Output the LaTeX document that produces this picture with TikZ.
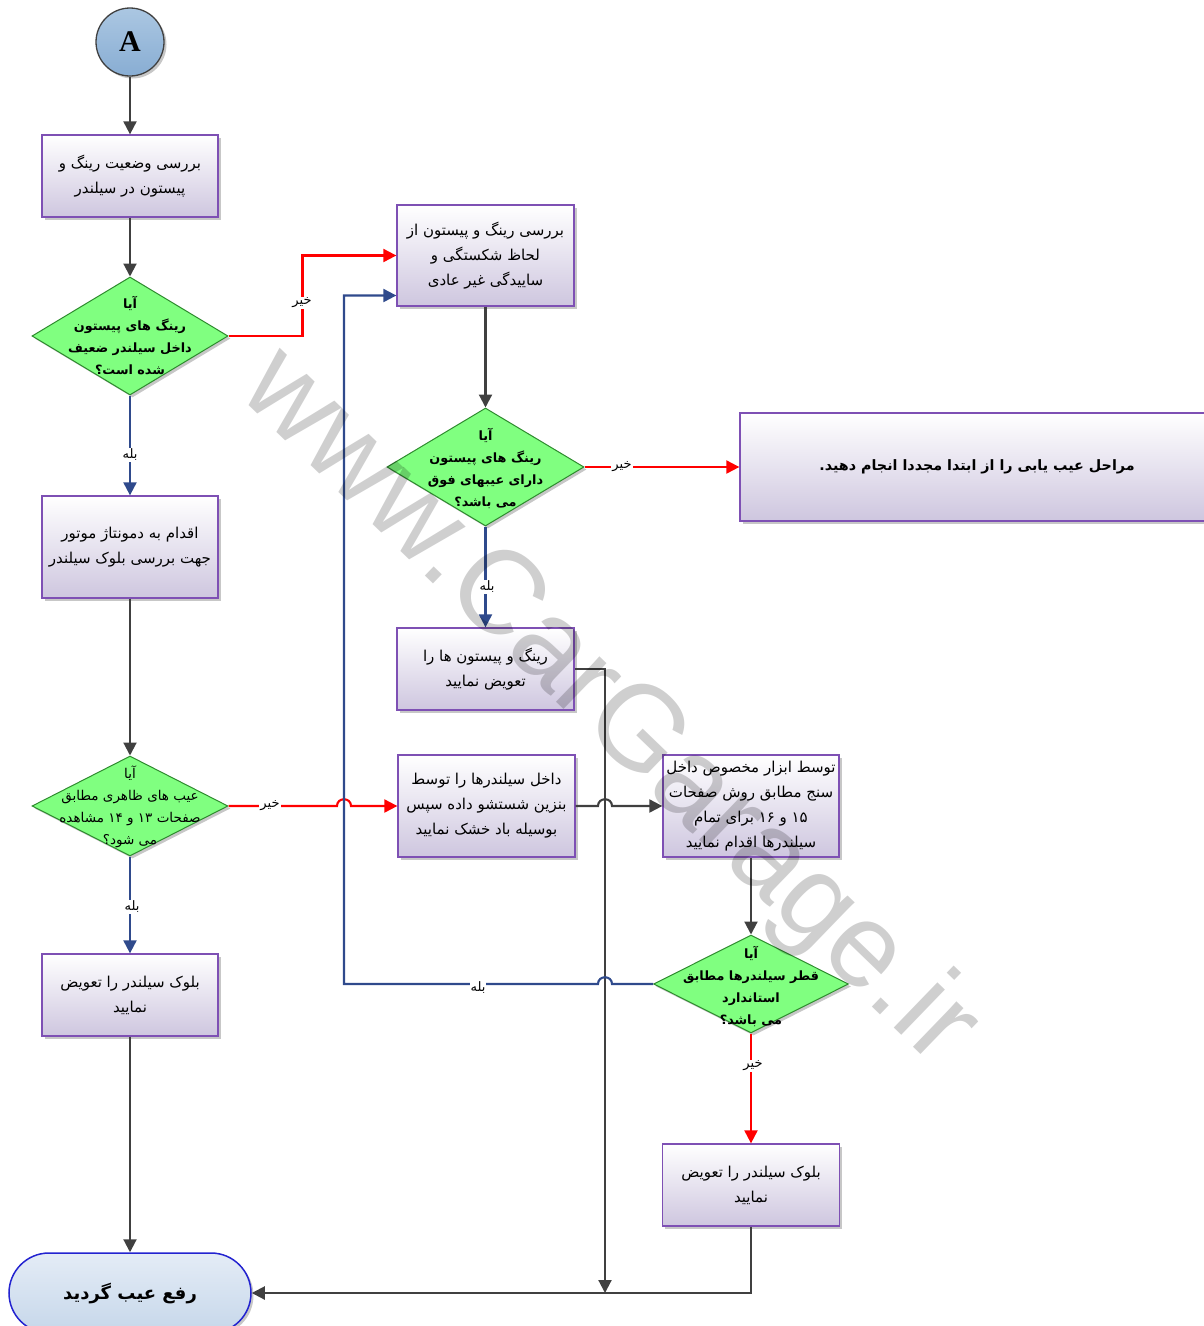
\documentclass[tikz,border=0pt]{standalone}
\usepackage{fontspec}
\usetikzlibrary{arrows.meta,shapes.geometric,shadows}
\newfontfamily\fa[Script=Arabic]{DejaVu Sans}
\newfontfamily\wmfont{Liberation Sans}
\newfontfamily\serifA{Liberation Serif}
\TeXXeTstate=1
\newcommand{\rl}[1]{\beginR #1\endR}
\definecolor{boxline}{HTML}{7E50B4}
\definecolor{boxbot}{HTML}{CEC6DF}
\definecolor{dfill}{HTML}{80FF80}
\definecolor{dline}{HTML}{2E8B2E}
\definecolor{yesc}{HTML}{2F4A8C}
\definecolor{noc}{HTML}{FF0000}
\definecolor{flowc}{HTML}{404040}
\definecolor{termline}{HTML}{2323D0}
\definecolor{termtop}{HTML}{E4ECF6}
\definecolor{termbot}{HTML}{C6D7EA}
\definecolor{atop}{HTML}{ABC7E2}
\definecolor{abot}{HTML}{88ADD3}
\begin{document}
\begin{tikzpicture}[x=1pt,y=-1pt,
  shad/.style={drop shadow={shadow xshift=2.5pt,shadow yshift=-2.5pt,opacity=0.22,fill=black}},
  box/.style={rectangle,draw=boxline,line width=1.3pt,top color=white,bottom color=boxbot,shad,
    inner sep=0pt,align=center,font=\fa\fontsize{15}{25}\selectfont},
  dia/.style={diamond,draw=dline,line width=1pt,fill=dfill,inner sep=0pt,shad},
  dtext/.style={align=center,inner sep=0pt,font=\fa\bfseries\fontsize{12.8}{22}\selectfont},
  dtextr/.style={align=center,inner sep=0pt,font=\fa\fontsize{13.5}{22}\selectfont},
  flowarr/.style={draw=flowc,line width=2.1pt,-{Triangle[length=13pt,width=13pt]}},
  yesarr/.style={draw=yesc,line width=2.1pt,-{Triangle[length=13pt,width=13pt]}},
  noarr/.style={draw=noc,line width=2.1pt,-{Triangle[length=13pt,width=13pt]}},
  lab/.style={fill=white,inner sep=1pt,font=\fa\fontsize{13}{13}\selectfont}
]
\useasboundingbox (0,0) rectangle (1204,1326);

% start circle
\node[circle,draw=flowc,line width=1.3pt,top color=atop,bottom color=abot,minimum size=68pt,inner sep=0pt,shad]
  (A) at (130,42) {\serifA\bfseries\fontsize{30}{30}\selectfont A};

% boxes
\node[box,minimum width=176pt,minimum height=82pt] (b1) at (130,176)
  {\rl{بررسی وضعیت رینگ و}\\\rl{پیستون در سیلندر}};
\node[box,minimum width=177pt,minimum height=101pt] (b2) at (485.5,255.5)
  {\rl{بررسی رینگ و پیستون از}\\\rl{لحاظ شکستگی و}\\\rl{ساییدگی غیر عادی}};
\node[box,minimum width=474pt,minimum height=108pt,font=\fa\bfseries\fontsize{14.3}{25}\selectfont] (big) at (977,467)
  {\rl{مراحل عیب یابی را از ابتدا مجددا انجام دهید\hbox{.}}};
\node[box,minimum width=177pt,minimum height=82pt] (b3) at (485.5,669)
  {\rl{رینگ و پیستون ها را}\\\rl{تعویض نمایید}};
\node[box,minimum width=176pt,minimum height=102pt] (b4) at (130,547)
  {\rl{اقدام به دمونتاژ موتور}\\\rl{جهت بررسی بلوک سیلندر}};
\node[box,minimum width=177pt,minimum height=102pt] (b5) at (486.5,806)
  {\rl{داخل سیلندرها را توسط}\\\rl{بنزین شستشو داده سپس}\\\rl{بوسیله باد خشک نمایید}};
\node[box,minimum width=176pt,minimum height=102pt] (b6) at (751,806)
  {\rl{توسط ابزار مخصوص داخل}\\\rl{سنج مطابق روش صفحات}\\\rl{۱۵ و ۱۶ برای تمام}\\\rl{سیلندرها اقدام نمایید}};
\node[box,minimum width=177pt,minimum height=82pt] (b7) at (751,1185)
  {\rl{بلوک سیلندر را تعویض}\\\rl{نمایید}};
\node[box,minimum width=176pt,minimum height=82pt] (b8) at (130,995)
  {\rl{بلوک سیلندر را تعویض}\\\rl{نمایید}};

% terminal
\node[rectangle,rounded corners=40pt,draw=termline,line width=1.5pt,top color=termtop,bottom color=termbot,shad,
  minimum width=242pt,minimum height=80pt,inner sep=0pt,font=\fa\bfseries\fontsize{18}{18}\selectfont]
  (term) at (130,1293) {\rl{رفع عیب گردید}};

% decisions
\node[dia,minimum width=196pt,minimum height=118pt] (d1) at (130,336) {};
\node[dtext] (d1t) at (130,336) {\rl{آیا}\\\rl{رینگ های پیستون}\\\rl{داخل سیلندر ضعیف}\\\rl{شده است؟}};
\node[dia,minimum width=197pt,minimum height=118pt] (d2) at (485.5,467) {};
\node[dtext] (d2t) at (485.5,468) {\rl{آیا}\\\rl{رینگ های پیستون}\\\rl{دارای عیبهای فوق}\\\rl{می باشد؟}};
\node[dia,minimum width=196pt,minimum height=100pt] (d3) at (130,806) {};
\node[dtextr] (d3t) at (130,807) {\rl{آیا}\\\rl{عیب های ظاهری مطابق}\\\rl{صفحات ۱۳ و ۱۴ مشاهده}\\\rl{می شود؟}};
\node[dia,minimum width=195pt,minimum height=98pt] (d4) at (751,984) {};
\node[dtext] (d4t) at (751,986) {\rl{آیا}\\\rl{قطر سیلندرها مطابق}\\\rl{استاندارد}\\\rl{می باشد؟}};

% connectors
\coordinate (j1) at (605,1293);
\draw[flowarr] (A.south) -- (b1.north);
\draw[flowarr] (b1.south) -- (d1.north);
\draw[noarr] (d1.east) -- ++(74,0) |- (b2.west);
\draw[flowarr] (b2.south) -- (d2.north);
\draw[noarr] (d2.east) -- (big.west);
\draw[yesarr] (d2.south) -- (b3.north);
\draw[flowarr] (b3.east) -| (j1);
\draw[yesarr] (d1.south) -- (b4.north);
\draw[flowarr] (b4.south) -- (d3.north);
\draw[noarr] (d3.east) -- (337,806) .. controls (337,797) and (351,797) .. (351,806) -- (b5.west);
\draw[flowarr] (b5.east) -- (598,806) .. controls (598,797) and (612,797) .. (612,806) -- (b6.west);
\draw[flowarr] (b6.south) -- (d4.north);
\draw[yesarr] (d4.west) -- (612,984) .. controls (612,975) and (598,975) .. (598,984) -- (344,984) |- ([yshift=-40pt]b2.west);
\draw[noarr] (d4.south) -- (b7.north);
\draw[flowarr] (b7.south) |- (term.east);
\draw[yesarr] (d3.south) -- (b8.north);
\draw[flowarr] (b8.south) -- (term.north);

% labels
\node[lab] (l1) at (302,303) {\rl{خیر}};
\node[lab] (l2) at (622,467) {\rl{خیر}};
\node[lab] (l3) at (487,587) {\rl{بله}};
\node[lab] (l4) at (130,455) {\rl{بله}};
\node[lab] (l5) at (270,806) {\rl{خیر}};
\node[lab] (l6) at (132,907) {\rl{بله}};
\node[lab] (l7) at (478,987) {\rl{بله}};
\node[lab] (l8) at (753,1066) {\rl{خیر}};

% watermark
\node[rotate=-44,text=black,text opacity=0.19,inner sep=0pt,font=\wmfont\fontsize{119}{119}\selectfont] (wm) at (608,709) {www.CarGarage.ir};
\end{tikzpicture}
\end{document}
